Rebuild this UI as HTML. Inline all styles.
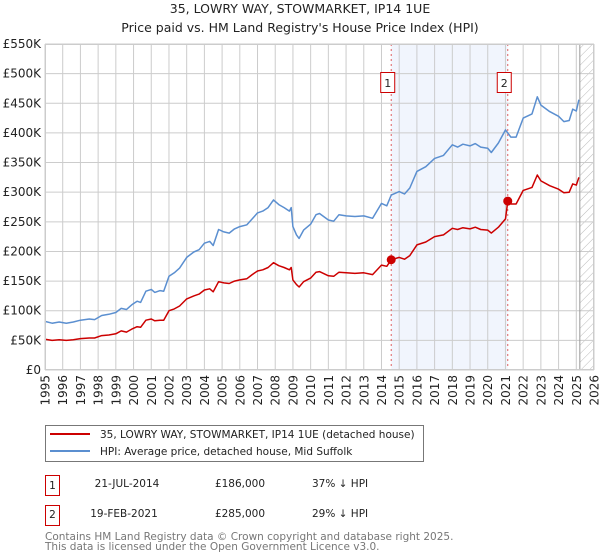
<!DOCTYPE html>
<html><head><meta charset="utf-8"><style>
body{margin:0;background:#fff;font-family:"DejaVu Sans","Liberation Sans",sans-serif;}
svg{display:block}
</style></head><body>
<svg width="600" height="560" xmlns="http://www.w3.org/2000/svg" font-family="DejaVu Sans, Liberation Sans, sans-serif">
<defs><pattern id="hatch" width="6" height="6" patternUnits="userSpaceOnUse" patternTransform="rotate(45)"><line x1="0" y1="0" x2="0" y2="6" stroke="#bbb" stroke-width="1"/></pattern></defs>
<text x="300" y="13" text-anchor="middle" font-size="12.5" fill="#222">35, LOWRY WAY, STOWMARKET, IP14 1UE</text>
<text x="300" y="32" text-anchor="middle" font-size="12.5" fill="#222">Price paid vs. HM Land Registry's House Price Index (HPI)</text>
<g id="plot"></g>
<g>
<rect x="45.5" y="425.5" width="378" height="36" fill="#fff" stroke="#777"/>
<line x1="50" y1="434" x2="90" y2="434" stroke="#cc0000" stroke-width="2"/>
<text x="100" y="438" font-size="10.5" fill="#222">35, LOWRY WAY, STOWMARKET, IP14 1UE (detached house)</text>
<line x1="50" y1="451" x2="90" y2="451" stroke="#5b8fd0" stroke-width="2"/>
<text x="100" y="455" font-size="10.5" fill="#222">HPI: Average price, detached house, Mid Suffolk</text>
</g>
<g font-size="10.5" fill="#222">
<rect x="45.5" y="475.5" width="14" height="20" fill="#fff" stroke="#cc0000"/>
<text x="52.5" y="489" text-anchor="middle">1</text>
<text x="127" y="487" text-anchor="middle">21-JUL-2014</text>
<text x="240" y="487" text-anchor="middle">£186,000</text>
<text x="312" y="487">37% ↓ HPI</text>
<rect x="45.5" y="505.5" width="14" height="20" fill="#fff" stroke="#cc0000"/>
<text x="52.5" y="518" text-anchor="middle">2</text>
<text x="124" y="517" text-anchor="middle">19-FEB-2021</text>
<text x="240" y="517" text-anchor="middle">£285,000</text>
<text x="312" y="517">29% ↓ HPI</text>
</g>
<text x="45" y="540" font-size="10.5" fill="#777">Contains HM Land Registry data © Crown copyright and database right 2025.</text>
<text x="45" y="550" font-size="10.5" fill="#777">This data is licensed under the Open Government Licence v3.0.</text>
</svg>
<script>
const years=[1995.0,1995.4,1995.8,1996.2,1996.6,1997.0,1997.5,1997.8,1998.2,1998.6,1999.0,1999.3,1999.6,1999.9,2000.2,2000.4,2000.7,2001.0,2001.2,2001.5,2001.7,2002.0,2002.3,2002.6,2003.0,2003.4,2003.7,2004.0,2004.3,2004.5,2004.8,2005.1,2005.4,2005.7,2006.0,2006.4,2006.7,2007.0,2007.3,2007.6,2007.9,2008.2,2008.5,2008.8,2008.9,2009.0,2009.2,2009.35,2009.6,2010.0,2010.3,2010.5,2011.0,2011.3,2011.6,2012.0,2012.5,2013.0,2013.5,2014.0,2014.3,2014.55,2015.0,2015.3,2015.6,2016.0,2016.5,2017.0,2017.5,2018.0,2018.3,2018.6,2019.0,2019.3,2019.6,2020.0,2020.2,2020.6,2021.0,2021.13,2021.3,2021.6,2022.0,2022.5,2022.8,2023.0,2023.5,2024.0,2024.3,2024.6,2024.8,2025.0,2025.15];
const hpiValues=[82,79,81,79,81,84,86,85,92,94,97,104,102,110,116,114,133,136,131,134,133,158,164,172,190,199,203,214,217,210,237,233,231,238,242,245,255,265,268,274,287,279,274,268,274,242,228,222,236,246,262,264,253,251,262,260,259,260,256,281,277,295,301,297,307,335,343,357,362,380,376,381,378,382,376,374,367,383,405,400,393,393,425,432,461,447,436,428,419,421,440,437,456];
const priceValues=[52,50,51,50,51,53,54,54,58,59,61,66,64,69,73,72,84,86,83,84,84,100,103,108,120,125,128,135,137,132,149,147,146,150,152,154,161,167,169,173,181,176,173,169,173,152,144,140,149,155,165,166,159,158,165,164,163,164,161,177,175,186,190,187,193,211,216,225,228,239,237,240,238,241,237,236,231,241,255,285,280,280,303,308,329,319,311,305,299,300,314,312,325];
const yTicks=[0,50,100,150,200,250,300,350,400,450,500,550];
const yTickLabels=["£0","£50K","£100K","£150K","£200K","£250K","£300K","£350K","£400K","£450K","£500K","£550K"];
const xTicks=[1995,1996,1997,1998,1999,2000,2001,2002,2003,2004,2005,2006,2007,2008,2009,2010,2011,2012,2013,2014,2015,2016,2017,2018,2019,2020,2021,2022,2023,2024,2025,2026];
const saleYears=[2014.55,2021.13];
const salePrices=[186,285];
const saleLabels=["1","2"];
const NS="http://www.w3.org/2000/svg";
const L=45,R=594,T=44,B=370;
const xs=y=>L+(y-1995)*(R-L)/31;
const ys=v=>B-v*(B-T)/550;
const g=document.getElementById('plot');
function mk(t,a,p){const e=document.createElementNS(NS,t);for(const k in a)e.setAttribute(k,a[k]);(p||g).appendChild(e);return e;}
let sh=mk('rect',{x:xs(saleYears[0]),y:T,width:xs(saleYears[1])-xs(saleYears[0]),height:B-T,fill:'#eef3fc',opacity:0.8});


let hz=mk('rect',{x:xs(2025.2),y:T,width:R-xs(2025.2),height:B-T,fill:'url(#hatch)'});


yTicks.forEach((v,i)=>{
 let l=mk('line',{x1:L,x2:R,y1:ys(v),y2:ys(v),stroke:'#ccc','stroke-width':1});
 
 
 let t=mk('text',{x:L-4,y:ys(v)+4,'text-anchor':'end','font-size':'12',fill:'#222'});
 
 
 t.textContent=yTickLabels[i];
});
xTicks.forEach(yr=>{
 let l=mk('line',{x1:xs(yr),x2:xs(yr),y1:T,y2:B,stroke:'#ccc','stroke-width':1});
 
 
 let t=mk('text',{x:0,y:0,'text-anchor':'end','font-size':'12',fill:'#222',transform:`translate(${xs(yr)+4.5},${B+5}) rotate(-90)`});
 
 
 t.textContent=yr;
});
let nl=mk('line',{x1:xs(2025.2),x2:xs(2025.2),y1:T,y2:B,stroke:'#999','stroke-width':1});


saleYears.forEach((sy,i)=>{
 let l=mk('line',{x1:xs(sy),x2:xs(sy),y1:T,y2:B,stroke:'#e06060','stroke-width':1,'stroke-dasharray':'2,3'});
 
 
});
function path(vals,col,name){
 let d=years.map((y,i)=>(i?'L':'M')+xs(y).toFixed(1)+','+ys(vals[i]).toFixed(1)).join('');
 let p=mk('path',{d:d,fill:'none',stroke:col,'stroke-width':1.5,'stroke-linejoin':'round'});
 
 
}
path(hpiValues,'#5b8fd0','hpi-line');
path(priceValues,'#cc0000','price-paid-line');
saleYears.forEach((sy,i)=>{
 let c=mk('circle',{cx:xs(sy),cy:ys(salePrices[i]),r:4.5,fill:'#cc0000'});
 
 
 let bx=mk('rect',{x:xs(sy)-10.5,y:72.5,width:14,height:20,fill:'#fff',stroke:'#cc0000'});
 
 
 let t=mk('text',{x:xs(sy)-3.5,y:87,'text-anchor':'middle','font-size':'11',fill:'#222'});
 
 
 t.textContent=saleLabels[i];
});
let fr=mk('rect',{x:L+0.5,y:T+0.5,width:R-L-1,height:B-T-1,fill:'none',stroke:'#ccc'});


</script>
</body></html>
